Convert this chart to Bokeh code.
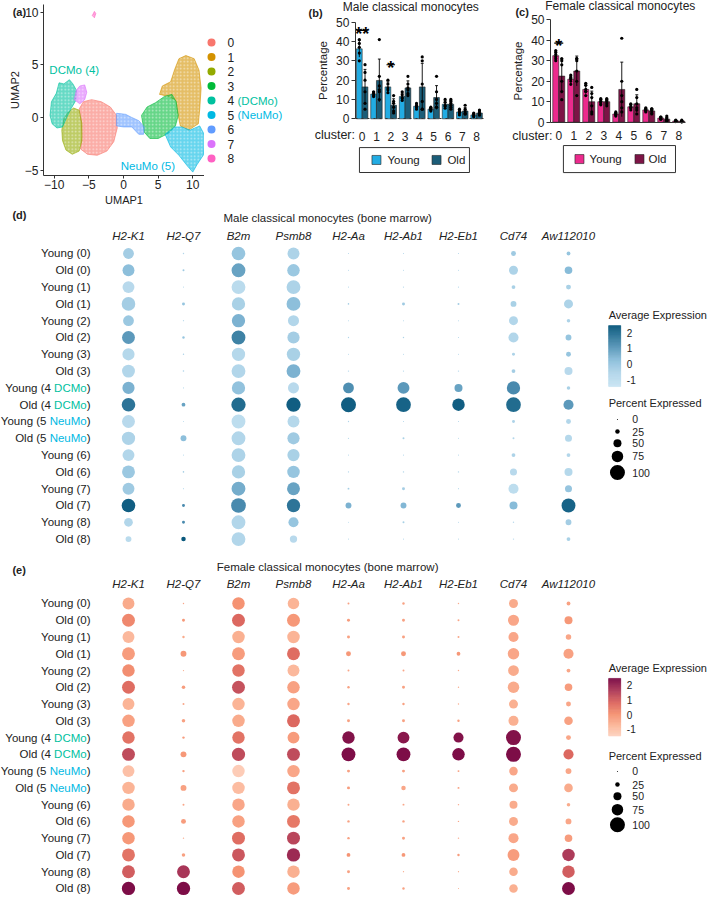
import numpy as np
from bokeh.plotting import figure
from bokeh.layouts import column, row
from bokeh.models import ColumnDataSource, Range1d, LinearColorMapper, FixedTicker
from bokeh.core.properties import value
from bokeh.embed import file_html
from bokeh.resources import INLINE

FONT = "Liberation Sans"

# ---------------- data: clusters / UMAP ----------------
clusters = ["0", "1", "2", "3", "4", "5", "6", "7", "8"]
cluster_colors = ["#F8766D", "#D39200", "#93AA00", "#00BA38", "#00C19F",
                  "#00B9E3", "#619CFF", "#DB72FB", "#FF61C3"]
cluster_notes = ["", "", "", "", "DCMo", "NeuMo", "", "", ""]

# outline of each cluster's cloud in UMAP space (UMAP1, UMAP2)
umap_x = [
    [-6.4, -5.8, -4.6, -3.2, -1.9, -1.0, -0.9, -1.4, -2.4, -3.8, -5.2, -6.2, -6.0, -6.1],
    [5.2, 5.6, 6.8, 7.4, 8.0, 9.0, 10.2, 10.9, 11.2, 11.0, 10.8, 9.4, 8.2, 7.8, 7.6, 6.6],
    [-8.9, -8.6, -8.0, -7.2, -6.4, -6.0, -6.0, -6.4, -7.4, -8.3, -8.8],
    [2.6, 3.4, 4.6, 5.9, 7.0, 7.6, 7.9, 7.5, 6.5, 5.0, 3.8, 3.0],
    [-10.6, -10.4, -9.7, -9.3, -8.6, -7.8, -7.3, -6.8, -6.9, -7.6, -8.2, -8.8, -9.6, -10.3],
    [6.0, 7.4, 8.4, 9.6, 11.0, 11.8, 11.6, 10.6, 10.0, 9.2, 8.0, 6.8],
    [-1.0, 0.3, 1.2, 2.2, 3.0, 2.9, 2.2, 1.2, 0.0, -1.0],
    [-7.1, -6.8, -6.3, -5.6, -5.3, -5.6, -6.3],
    [-4.5, -4.2, -4.0, -4.2],
]
umap_y = [
    [0.8, 1.5, 1.7, 1.5, 1.0, 0.2, -1.0, -2.3, -3.2, -3.6, -3.5, -3.0, -1.8, -0.4],
    [2.2, 3.0, 3.4, 4.6, 5.6, 5.9, 5.6, 4.5, 2.8, 0.8, -0.6, -1.2, -0.8, 0.5, 1.6, 2.0],
    [-1.2, -0.1, 0.5, 0.9, 0.7, -0.6, -2.2, -3.2, -3.5, -3.1, -2.2],
    [0.2, 1.0, 1.4, 2.0, 2.2, 1.5, 0.2, -0.8, -1.5, -2.0, -2.0, -1.4],
    [0.2, 1.5, 2.3, 3.3, 3.2, 3.6, 3.2, 2.6, 1.6, 0.8, 0.0, -0.9, -1.0, -0.6],
    [-1.6, -0.9, -0.9, -1.2, -0.8, -1.8, -3.5, -4.5, -5.2, -4.6, -3.6, -2.8],
    [0.4, 0.3, 0.0, -0.3, -0.9, -1.6, -1.6, -0.9, -0.9, -0.8],
    [1.7, 2.6, 3.0, 3.1, 2.4, 1.7, 1.3],
    [9.7, 10.1, 9.9, 9.5],
]
umap_ticks_x = [-10, -5, 0, 5, 10]
umap_ticks_y = [-5, 0, 5, 10]

# ---------------- data: cluster percentages (replicate mice) ----------------
male_young = [[41, 39, 37, 34, 30], [14, 13.5, 13, 12, 11.5], [20, 18, 16, 15, 13.5],
              [14, 12.5, 11, 10.5, 9.5], [8, 7, 6.5, 6, 5], [6, 5.5, 5, 4.5, 4],
              [10, 8.5, 7, 6.5, 5.5], [5, 4, 3.5, 3, 2], [3, 2.5, 2, 1.5, 1]]
male_old = [[28, 24, 20, 14, 8, 5], [41, 22, 17, 14, 10, 15], [12, 9, 6, 4, 3, 8],
            [22, 18, 16, 15, 13, 12], [32, 30, 18, 9, 5, 5], [22, 14, 10, 8, 6, 6],
            [10, 9, 8, 7, 6, 5], [7, 5, 4, 3, 2.5, 2.5], [4.5, 4, 3, 2.5, 2, 2]]
female_young = [[35, 34, 33, 32, 31, 30], [23, 22, 21.5, 21, 20, 18.5], [19, 18, 16, 15, 15, 13],
                [11.5, 11, 10, 10, 9, 8.5], [5, 4.5, 4, 4, 3.5, 3], [9, 8.5, 7.5, 7, 7, 6],
                [7, 6.5, 6, 6, 5.5, 5], [2.5, 2.5, 2, 2, 1.5, 1.5], [1, 0.8, 0.6, 0.5, 0.4, 0.3]]
female_old = [[31, 30, 28, 20, 15, 11], [31, 31, 30, 25, 20, 13], [17, 14, 12, 8, 5, 4],
              [11.5, 11, 10.5, 10, 9, 8], [41, 20, 13, 10, 7, 5], [16, 12, 9, 7, 6, 4],
              [6.5, 6.5, 6, 5.5, 4.5, 4], [3, 2, 1.5, 1, 1, 0.5], [1, 0.7, 0.5, 0.4, 0.2, 0.2]]
male_sig_cluster, male_sig_text, male_sig_y = [0, 2], ["**", "*"], [45.7, 28.0]
female_sig_cluster, female_sig_text, female_sig_y = [0], ["*"], [38.6]
pct_ticks = [0, 10, 20, 30, 40, 50]

# ---------------- data: dot plots ----------------
genes = ["H2-K1", "H2-Q7", "B2m", "Psmb8", "H2-Aa", "H2-Ab1", "H2-Eb1", "Cd74", "Aw112010"]
groups = ["Young", "Old"]
# one list per gene, 18 rows: Young(0), Old(0), Young(1), ... Old(8)
male_pct = [
    [70, 78, 78, 90, 70, 85, 80, 85, 80, 90, 85, 88, 78, 85, 78, 90, 55, 35],
    [3, 7, 1, 14, 2, 10, 3, 4, 1, 20, 1, 35, 1, 4, 1, 14, 14, 25],
    [90, 92, 92, 88, 88, 92, 88, 92, 88, 95, 92, 92, 92, 88, 92, 98, 92, 92],
    [78, 82, 92, 92, 72, 80, 88, 92, 72, 95, 78, 80, 80, 82, 85, 88, 65, 45],
    [1, 1, 1, 4, 1, 2, 1, 3, 70, 100, 2, 2, 1, 2, 6, 35, 0, 1],
    [1, 1, 2, 14, 1, 3, 1, 2, 78, 98, 1, 7, 1, 3, 14, 35, 7, 1],
    [1, 1, 2, 7, 1, 1, 1, 3, 50, 82, 1, 1, 1, 3, 1, 28, 1, 1],
    [28, 57, 20, 35, 57, 65, 14, 20, 88, 98, 14, 7, 20, 43, 65, 50, 3, 3],
    [20, 47, 28, 57, 18, 35, 28, 50, 18, 65, 28, 43, 20, 50, 43, 92, 35, 20],
]
male_avg = [
    [-0.3, 0.2, -0.8, -0.3, -0.1, 1.0, -0.7, -0.6, 0.5, 1.8, -0.8, -0.5, -0.6, -0.1, -0.2, 2.3, -0.6, -0.9],
    [-0.6, -0.2, -0.8, 0.0, -0.8, 0.0, -0.5, -0.5, -0.9, 0.8, -1.0, 0.2, -0.9, -0.3, -1.0, 1.3, 1.3, 2.5],
    [0.0, 0.8, -0.9, -0.4, 0.5, 1.5, -0.7, -0.6, 0.1, 2.0, -1.0, -0.6, -0.5, -0.4, 0.6, 1.3, -0.6, -0.6],
    [-0.5, -0.1, -0.5, 0.2, -0.6, -0.3, -0.4, 0.5, -0.8, 2.3, -0.7, -0.2, -0.4, 0.0, 0.8, 1.8, 0.0, -0.8],
    [-0.7, -0.7, -0.7, -0.3, -0.8, -0.6, -0.8, -0.6, 1.2, 2.3, -0.6, -0.7, -0.8, -0.6, -0.3, 0.5, -0.9, -0.8],
    [-0.7, -0.7, -0.6, -0.2, -0.7, -0.5, -0.7, -0.6, 1.0, 2.2, -0.7, -0.4, -0.7, -0.5, -0.3, 0.4, -0.4, -0.7],
    [-0.7, -0.7, -0.6, -0.3, -0.8, -0.7, -0.8, -0.6, 0.8, 2.3, -0.7, -0.7, -0.8, -0.6, -0.8, 1.0, -0.8, -0.8],
    [-0.2, -0.5, -0.4, -0.4, -0.6, -0.6, -0.5, -0.3, 1.3, 2.0, -0.5, -0.6, -0.5, -0.8, -1.0, 0.3, -0.8, -0.7],
    [0.0, 0.3, -0.4, -0.5, -0.5, 0.0, 0.0, -0.8, -0.4, 1.0, -0.6, -0.7, -0.6, -0.7, 0.0, 2.2, -0.3, -0.4],
]
female_pct = [
    [78, 85, 78, 85, 82, 85, 78, 82, 82, 85, 78, 82, 82, 82, 82, 85, 85, 88],
    [3, 14, 10, 35, 2, 18, 7, 18, 10, 35, 10, 35, 7, 28, 3, 18, 85, 88],
    [82, 85, 82, 85, 82, 85, 82, 82, 82, 88, 82, 82, 82, 82, 85, 85, 82, 85],
    [75, 85, 82, 85, 78, 82, 82, 85, 78, 85, 82, 85, 82, 85, 85, 88, 82, 82],
    [7, 14, 14, 28, 7, 10, 10, 14, 82, 92, 14, 14, 7, 10, 10, 20, 14, 14],
    [10, 14, 14, 28, 7, 14, 10, 14, 78, 92, 14, 25, 7, 10, 14, 20, 2, 10],
    [3, 7, 7, 20, 3, 3, 3, 10, 65, 82, 7, 7, 3, 3, 3, 10, 2, 1],
    [57, 72, 65, 75, 70, 75, 57, 65, 100, 100, 54, 57, 50, 57, 65, 78, 54, 54],
    [20, 50, 32, 65, 20, 47, 28, 54, 28, 65, 35, 54, 18, 35, 47, 82, 82, 85],
]
female_avg = [
    [-0.5, 0.2, -0.8, -0.2, 0.1, 0.7, -0.7, -0.3, 0.6, 1.3, -1.0, -0.7, -0.5, -0.1, -0.1, 0.6, 1.0, 2.4],
    [-0.4, -0.1, -0.5, -0.1, -0.5, -0.2, -0.4, -0.3, -0.2, -0.1, -0.3, -0.3, -0.4, -0.2, -0.5, -0.3, 1.7, 2.4],
    [0.0, 0.8, -0.6, -0.2, 0.6, 1.2, -0.7, -0.5, 0.6, 1.3, -1.3, -0.9, -0.4, -0.3, 0.7, 1.1, 0.0, 1.0],
    [-0.7, -0.1, -0.7, 0.7, -0.8, -0.3, -0.4, 0.8, -0.2, 1.3, -0.4, 0.6, -0.6, 0.5, 1.4, 1.9, -0.6, -0.2],
    [-0.3, -0.2, -0.3, -0.1, -0.4, -0.3, -0.4, -0.3, 2.3, 2.4, -0.3, -0.2, -0.4, -0.3, -0.3, 0.0, -0.3, -0.3],
    [-0.3, -0.3, -0.3, -0.1, -0.4, -0.3, -0.3, -0.3, 2.2, 2.4, -0.3, -0.4, -0.4, -0.3, -0.3, -0.1, -0.5, -0.3],
    [-0.5, -0.4, -0.4, -0.1, -0.5, -0.5, -0.5, -0.3, 2.3, 2.4, -0.3, -0.3, -0.4, -0.4, -0.4, -0.2, -0.5, -0.6],
    [-0.5, -0.4, -0.4, -0.4, -0.5, -0.5, -0.6, -0.6, 2.3, 2.4, -0.4, -0.5, -0.5, -0.5, -0.4, -0.2, -0.5, -0.6],
    [-0.3, -0.1, -0.4, -0.3, -0.4, -0.2, -0.4, -0.3, -0.4, 0.8, -0.4, -0.5, -0.5, -0.4, -0.2, 1.6, 1.0, 2.4],
]
expr_ticks = [2, 1, 0, -1]
pct_keys = [0, 25, 50, 75, 100]
EXPR_LO, EXPR_HI = -1.45, 2.45

# ---------------- helpers ----------------
def hex2rgb(h):
    return [int(h[i:i + 2], 16) for i in (1, 3, 5)]


def ramp(stops, n=256):
    v = [s for s, _ in stops]
    c = np.array([hex2rgb(h) for _, h in stops], float)
    out = []
    for t in np.linspace(v[0], v[-1], n):
        r, g, b = (int(round(np.interp(t, v, c[:, k]))) for k in range(3))
        out.append("#%02x%02x%02x" % (r, g, b))
    return out


AW = {" ": 278, "(": 333, ")": 333, "C": 722, "D": 722, "M": 833, "N": 722,
      "e": 556, "o": 556, "u": 556}


def text_w(s, px):
    return sum(AW[ch] for ch in s) * px / 1000.0


def dot_size(p):
    return 1 + 0.14 * np.asarray(p, float)


def base_fig(**kw):
    p = figure(toolbar_location=None, output_backend="svg", min_border=0, **kw)
    p.background_fill_color = "white"
    p.border_fill_color = "white"
    p.grid.visible = False
    p.outline_line_color = None
    return p


def style_axis(ax, fs="12px"):
    ax.major_label_text_font = FONT
    ax.major_label_text_font_size = fs
    ax.major_label_text_color = "#222222"
    ax.axis_label_text_font = FONT
    ax.axis_label_text_font_style = "normal"
    ax.axis_label_text_color = "#222222"
    ax.axis_line_color = "#333333"
    ax.major_tick_line_color = "#333333"
    ax.minor_tick_line_color = None
    ax.major_tick_in = 0
    ax.major_tick_out = 3


def txt(p, x, y, t, fs="11px", style="normal", align="left", color="#222222",
        baseline="middle", **kw):
    p.text(x=list(x), y=list(y), text=list(t), text_font=value(FONT), text_font_size=value(fs),
           text_font_style=style, text_align=align, text_baseline=baseline, text_color=color, **kw)


TOP_H = 205

# ---------------- (a) UMAP ----------------
fa = base_fig(width=204, height=TOP_H, x_range=Range1d(-17.75, 11.69), y_range=Range1d(-8.38, 11.14))
fa.patches(xs=umap_x, ys=umap_y, fill_color=cluster_colors, fill_alpha=0.6,
           hatch_pattern="dot", hatch_color="white", hatch_alpha=0.55, hatch_scale=3.5, hatch_weight=1.0,
           line_color=cluster_colors, line_alpha=0.6, line_width=1.0)
fa.xaxis.fixed_location = -5.52
fa.yaxis.fixed_location = -11.54
fa.xaxis.bounds = (-11.54, 11.69)
fa.yaxis.bounds = (-5.52, 10.75)
fa.xaxis.ticker = FixedTicker(ticks=umap_ticks_x)
fa.yaxis.ticker = FixedTicker(ticks=umap_ticks_y)
fa.xaxis.axis_label = "UMAP1"
fa.yaxis.axis_label = "UMAP2"
for ax in (fa.xaxis, fa.yaxis):
    style_axis(ax)
    ax.axis_label_text_font_size = "11px"
    ax.axis_label_standoff = 1
    ax.major_label_standoff = 2
txt(fa, [-10.7], [4.5], ["DCMo (4)"], fs="11.5px", color=cluster_colors[4])
txt(fa, [-0.4], [-4.6], ["NeuMo (5)"], fs="11.5px", color=cluster_colors[5])
txt(fa, [-16.0], [10.0], ["(a)"], style="bold")

# legend for (a)
fl = base_fig(width=96, height=TOP_H, x_range=Range1d(0, 96), y_range=Range1d(11.24, -2.9),
              x_axis_location=None, y_axis_location=None)
idx = list(range(len(clusters)))
fl.scatter(x=[7] * len(idx), y=idx, size=8, fill_color=cluster_colors, line_color=None)
txt(fl, [23] * len(idx), idx, clusters, fs="12px")
ni = [i for i, n in enumerate(cluster_notes) if n]
fl.text(x=[33] * len(ni), y=ni, text=["(%s)" % cluster_notes[i] for i in ni],
        text_color=[cluster_colors[i] for i in ni], text_font=value(FONT),
        text_font_size=value("11.5px"), text_baseline="middle")


# ---------------- (b), (c) bar charts ----------------
def bar_panel(tag, title, young, old, c_young, c_old, width, xr, yr, y_axis_x, x_end, axis_dash,
              sig_c, sig_t, sig_y, standoff, title_pos, tag_pos, cluster_pos, box, sw_x, tx_x, leg_y):
    p = base_fig(width=width, height=TOP_H, x_range=Range1d(*xr), y_range=Range1d(*yr))
    xc = np.arange(len(clusters))
    for reps, col, off in ((young, c_young, -0.2), (old, c_old, 0.2)):
        m = np.array([np.mean(r) for r in reps])
        sd = np.array([np.std(r, ddof=1) for r in reps])
        x = xc + off
        p.vbar(x=x, top=m, bottom=0, width=0.4, fill_color=col, line_color="#222222", line_width=0.6)
        p.segment(x0=x, y0=np.maximum(m - sd, 0), x1=x, y1=m + sd, line_color="black", line_width=0.9)
        p.segment(x0=x - 0.1, y0=m + sd, x1=x + 0.1, y1=m + sd, line_color="black", line_width=0.9)
        px_, py_ = [], []
        for xi, rr in zip(x, reps):
            px_ += [xi] * len(rr)
            py_ += list(rr)
        p.scatter(x=px_, y=py_, size=3.2, fill_color="black", line_color=None)
    sc = np.array(sig_c, float)
    p.segment(x0=sc - 0.3, y0=sig_y, x1=sc + 0.3, y1=sig_y, line_color="black", line_width=1.1)
    txt(p, sc, sig_y, sig_t, fs="18px", style="bold", align="center", baseline="alphabetic",
        color="black", y_offset=3)
    # axes (fixed inside the canvas)
    p.xaxis.fixed_location = 0
    p.yaxis.fixed_location = y_axis_x
    p.xaxis.bounds = (y_axis_x, x_end)
    p.yaxis.bounds = (0, 50)
    p.xaxis.ticker = FixedTicker(ticks=list(range(len(clusters))))
    p.xaxis.major_label_overrides = {i: c for i, c in enumerate(clusters)}
    p.yaxis.ticker = FixedTicker(ticks=pct_ticks)
    p.yaxis.axis_label = "Percentage"
    style_axis(p.xaxis)
    style_axis(p.yaxis)
    p.xaxis.major_tick_line_color = None
    p.xaxis.major_label_standoff = standoff
    p.xaxis.axis_line_dash = axis_dash
    p.yaxis.axis_label_text_font_size = "11.5px"
    p.yaxis.axis_label_standoff = 4
    p.yaxis.major_tick_out = 4
    p.yaxis.major_label_standoff = 2
    # texts
    txt(p, [title_pos[0]], [title_pos[1]], [title], fs="12px", align="center")
    txt(p, [tag_pos[0]], [tag_pos[1]], [tag], style="bold")
    txt(p, [cluster_pos[0]], [cluster_pos[1]], ["cluster:"], fs="12.5px", align="right")
    # legend box
    p.quad(left=[box[0]], right=[box[1]], top=[box[2]], bottom=[box[3]], fill_color="white",
           line_color="#333333", line_width=1)
    p.scatter(x=sw_x, y=[leg_y] * 2, marker="square", size=9, fill_color=[c_young, c_old],
              line_color="#222222", line_width=0.6)
    txt(p, tx_x, [leg_y] * 2, groups, fs="11.5px")
    return p


fb = bar_panel("(b)", "Male classical monocytes", male_young, male_old, "#22ace3", "#1b5d78",
               205, (-4.31, 10.02), (-44.88, 61.23), -0.47, 8.7, "dotted",
               male_sig_cluster, male_sig_text, male_sig_y, 10,
               (3.4, 58.1), (-3.75, 55.0), (-0.5, -8.64), (-0.19, 7.5, -14.9, -27.8),
               [1.0, 5.2], [1.77, 5.96], -21.3)
fc = bar_panel("(c)", "Female classical monocytes", female_young, female_old, "#ec2a8d", "#7d1446",
               203, (-3.55, 9.98), (-40.67, 59.42), -0.55, 8.45, "solid",
               female_sig_cluster, female_sig_text, female_sig_y, 6,
               (4.1, 56.5), (-2.89, 53.6), (-0.42, -6.5), (0.31, 7.78, -11.4, -24.6),
               [1.38, 5.38], [2.05, 5.98], -18.0)


# ---------------- (d), (e) dot plots ----------------
ROW_FS = 11.5
DOT_W = 708


def dot_panel(tag, title, pct, avg, stops, height, y_top, y_bot, r_tag, r_title, r_gene, leg):
    mapper = LinearColorMapper(palette=ramp(stops), low=EXPR_LO, high=EXPR_HI)
    p = base_fig(width=DOT_W, height=height, x_range=Range1d(-2.327, (DOT_W - 128) / 55.0),
                 y_range=Range1d(y_bot, y_top), x_axis_location=None, y_axis_location=None)
    xs, ys, ss, vs = [], [], [], []
    nrow = len(pct[0])
    for gi in range(len(genes)):
        for ri in range(nrow):
            xs.append(gi)
            ys.append(ri)
            ss.append(float(dot_size(pct[gi][ri])))
            vs.append(avg[gi][ri])
    src = ColumnDataSource(dict(x=xs, y=ys, s=ss, v=vs))
    p.scatter("x", "y", size="s", source=src, fill_color={"field": "v", "transform": mapper}, line_color=None)

    # row labels (with coloured DCMo / NeuMo)
    mt, mo, my = [], [], []
    nt, no, ny, nc = [], [], [], []
    ct, cy = [], []
    for ci, c in enumerate(clusters):
        note = cluster_notes[ci]
        for g in groups:
            ri = len(mt)
            if note:
                mt.append("%s (%s" % (g, c))
                mo.append(-text_w(" " + note + ")", ROW_FS))
                nt.append(note)
                no.append(-text_w(")", ROW_FS))
                ny.append(ri)
                nc.append(cluster_colors[ci])
                ct.append(")")
                cy.append(ri)
            else:
                mt.append("%s (%s)" % (g, c))
                mo.append(0.0)
            my.append(ri)
    xr = -0.69
    p.text(x="x", y="y", text="t", x_offset="o",
           source=ColumnDataSource(dict(x=[xr] * len(mt), y=my, t=mt, o=mo)),
           text_align="right", text_baseline="middle", text_font=value(FONT),
           text_font_size=value("%gpx" % ROW_FS), text_color="#222222")
    p.text(x="x", y="y", text="t", x_offset="o", text_color="c",
           source=ColumnDataSource(dict(x=[xr] * len(nt), y=ny, t=nt, o=no, c=nc)),
           text_align="right", text_baseline="middle", text_font=value(FONT),
           text_font_size=value("%gpx" % ROW_FS))
    txt(p, [xr] * len(ct), cy, ct, fs="%gpx" % ROW_FS, align="right")

    # gene labels, title, tag
    txt(p, range(len(genes)), [r_gene] * len(genes), genes, fs="11.5px", style="italic", align="center")
    txt(p, [3.62], [r_title], [title], fs="11.5px", align="center")
    txt(p, [-2.11], [r_tag], [tag], style="bold")

    # colour legend
    lx = 8.73
    txt(p, [lx], [leg["title"]], ["Average Expression"], fs="11px")
    edges = np.linspace(EXPR_HI, EXPR_LO, 81)
    mids = (edges[:-1] + edges[1:]) / 2
    tops = leg["cb_top"] + (EXPR_HI - edges[:-1]) * leg["scale"]
    bots = leg["cb_top"] + (EXPR_HI - edges[1:]) * leg["scale"]
    p.quad(left=lx, right=lx + 0.22, top="t", bottom="b",
           source=ColumnDataSource(dict(t=tops, b=bots, v=mids)),
           fill_color={"field": "v", "transform": mapper},
           line_color={"field": "v", "transform": mapper}, line_width=0.5)
    tk = np.array(expr_ticks, float)
    txt(p, [lx + 0.33] * len(tk), leg["cb_top"] + (EXPR_HI - tk) * leg["scale"],
        [str(int(t)) for t in tk], fs="10px")
    # size legend
    txt(p, [lx], [leg["pe"]], ["Percent Expressed"], fs="11px")
    p.scatter(x=[lx + 0.16] * len(pct_keys), y=leg["dots"], size=list(dot_size(pct_keys)),
              fill_color="black", line_color=None)
    txt(p, [lx + 0.43] * len(pct_keys), leg["dots"], [str(k) for k in pct_keys], fs="10.5px")
    return p


male_stops = [(-1.45, "#c9e4f3"), (-0.6, "#b2d6ea"), (0.3, "#88bcd9"), (1.2, "#4f8fb2"), (2.45, "#09587c")]
female_stops = [(-1.45, "#fdd2bf"), (-0.7, "#fbb496"), (0.0, "#f59373"), (0.8, "#dc6860"),
                (1.6, "#ae3c5a"), (2.45, "#7a0a46")]

fd = dot_panel("(d)", "Male classical monocytes (bone marrow)", male_pct, male_avg, male_stops,
               343, -2.857, 17.56, -2.3, -2.14, -1.07,
               dict(title=3.69, cb_top=4.29, scale=0.931, pe=8.87, dots=[9.88, 10.6, 11.3, 12.08, 13.04]))
fe = dot_panel("(e)", "Female classical monocytes (bone marrow)", female_pct, female_avg, female_stops,
               348, -3.28, 17.48, -1.97, -2.15, -1.19,
               dict(title=3.82, cb_top=4.47, scale=0.882, pe=9.07, dots=[10.02, 10.8, 11.5, 12.3, 13.2]))

layout = column(row(fa, fl, fb, fc), fd, fe)
open("out.html", "w").write(file_html(layout, INLINE))
